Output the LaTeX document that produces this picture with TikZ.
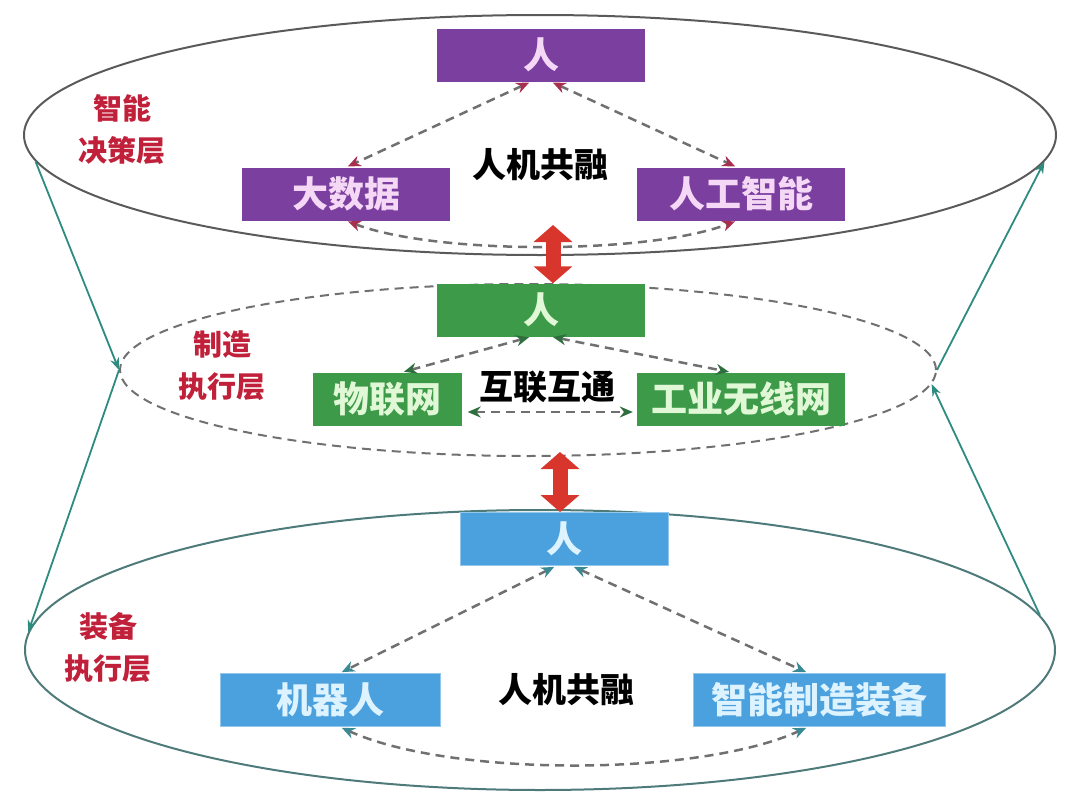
\documentclass[tikz,border=0pt]{standalone}
\usepackage{fontspec}
\setmainfont{Noto Sans CJK SC}
\usetikzlibrary{arrows.meta,shapes.geometric,calc}
\definecolor{purp}{HTML}{7B3FA0}
\definecolor{purptxt}{HTML}{F5D8F5}
\definecolor{grn}{HTML}{3C9A48}
\definecolor{grntxt}{HTML}{E0F8D6}
\definecolor{blu}{HTML}{4BA0DE}
\definecolor{blutxt}{HTML}{DDF3FF}
\definecolor{ringgray}{HTML}{5A5A5A}
\definecolor{ringteal}{HTML}{4F7A7A}
\definecolor{dashgray}{HTML}{707070}
\definecolor{tipred}{HTML}{A8304E}
\definecolor{tipgrn}{HTML}{2F6E3F}
\definecolor{tipblu}{HTML}{3A8A94}
\definecolor{tealc}{HTML}{2E8B80}
\definecolor{bigred}{HTML}{D8352C}
\definecolor{labred}{HTML}{C0203A}
\begin{document}
\begin{tikzpicture}[x=1pt,y=-1pt,
  layer/.style={ellipse, inner sep=0pt, line width=2pt},
  box/.style={rectangle, inner sep=0pt, minimum height=53pt, font=\bfseries\fontsize{36}{40}\selectfont},
  pbox/.style={box, fill=purp, text=purptxt},
  gbox/.style={box, fill=grn, text=grntxt},
  bbox/.style={box, fill=blu, text=blutxt, draw=blu!60!white, line width=1pt},
  midtext/.style={font=\bfseries\fontsize{34}{38}\selectfont, text=black},
  lbl/.style={align=center, text=labred, font=\bfseries\fontsize{29}{42}\selectfont},
  conn/.style={draw=dashgray, line width=2.5pt, dash pattern=on 9pt off 6pt},
  tipsR/.style={arrows={Stealth[length=13pt,width=11pt,color=tipred]-Stealth[length=13pt,width=11pt,color=tipred]}},
  tipsG/.style={arrows={Stealth[length=13pt,width=11pt,color=tipgrn]-Stealth[length=13pt,width=11pt,color=tipgrn]}},
  tipsB/.style={arrows={Stealth[length=13pt,width=11pt,color=tipblu]-Stealth[length=13pt,width=11pt,color=tipblu]}},
  tealline/.style={draw=tealc, line width=1.8pt, -{Stealth[length=12pt,width=9pt]}},
  bigarrow/.style={draw=bigred, line width=15pt, arrows={Triangle[length=17pt,width=38pt]-Triangle[length=17pt,width=38pt]}}
]
\useasboundingbox (0,0) rectangle (1080,811);

% layers
\node[layer, draw=ringgray, minimum width=1032pt, minimum height=240pt] (E1) at (540,135) {};
\node[layer, draw=dashgray, dash pattern=on 9pt off 6pt, minimum width=816pt, minimum height=172pt] (E2) at (528,370) {};
\node[layer, draw=ringteal, minimum width=1030pt, minimum height=280pt] (E3) at (540,650) {};

% side links
\draw[tealline] (E1.183) -- (E2.180);
\draw[tealline] (E2.180) -- (E3.178);
\draw[tealline] (E3.4) -- (E2.-2);
\draw[tealline] (E2.0) -- (E1.-3);

% boxes
\node[pbox, minimum width=208pt] (p1) at (541,55) {人};
\node[pbox, minimum width=208pt] (p2) at (346,194) {大数据};
\node[pbox, minimum width=208pt] (p3) at (741,194) {人工智能};
\node[gbox, minimum width=208pt] (g1) at (541,310) {人};
\node[gbox, minimum width=149pt] (g2) at (387,399) {物联网};
\node[gbox, minimum width=208pt] (g3) at (741,399) {工业无线网};
\node[bbox, minimum width=208pt] (b1) at (564,539) {人};
\node[bbox, minimum width=220pt] (b2) at (330,700) {机器人};
\node[bbox, minimum width=252pt] (b3) at (819,700) {智能制造装备};

% texts
\node[midtext] (t1) at (540,165) {人机共融};
\node[midtext] (t2) at (547,387) {互联互通};
\node[midtext] (t3) at (566,690) {人机共融};

\node[lbl] (L1) at (122,130) {智能\\决策层};
\node[lbl] (L2) at (222,366) {制造\\执行层};
\node[lbl] (L3) at (108,648) {装备\\执行层};

% top connectors
\draw[conn, tipsR, shorten <=2pt, shorten >=2pt] ([xshift=-10pt]p1.south) -- (p2.north);
\draw[conn, tipsR, shorten <=2pt, shorten >=2pt] ([xshift=10pt]p1.south) -- ([xshift=-4pt]p3.north);
\draw[conn, tipsR, shorten <=2pt, shorten >=2pt] (p2.south) .. controls +(90,34) and +(-90,34) .. ([xshift=-4pt]p3.south);

% middle connectors
\draw[conn, tipsG, shorten <=2pt, shorten >=2pt] ([xshift=-10pt]g1.south) -- ([xshift=15pt]g2.north);
\draw[conn, tipsG, shorten <=2pt, shorten >=2pt] ([xshift=10pt]g1.south) -- ([xshift=-10pt]g3.north);
\draw[conn, tipsG, shorten <=6pt, shorten >=4pt] ([yshift=-13pt]g2.east) -- ([yshift=-13pt]g3.west);

% bottom connectors
\draw[conn, tipsB, shorten <=2pt, shorten >=2pt] ([xshift=-8pt]b1.south) -- ([xshift=10pt]b2.north);
\draw[conn, tipsB, shorten <=2pt, shorten >=2pt] ([xshift=8pt]b1.south) -- ([xshift=-11pt]b3.north);
\draw[conn, tipsB, shorten <=2pt, shorten >=2pt] ([xshift=10pt]b2.south) .. controls +(110,50) and +(-110,50) .. ([xshift=-11pt]b3.south);

% red double arrows between layers
\coordinate (r1) at (553,225);
\draw[bigarrow] (r1) -- (r1 |- g1.north);
\coordinate (r2) at (560,452);
\draw[bigarrow] (r2) -- (r2 |- b1.north);
\end{tikzpicture}
\end{document}
